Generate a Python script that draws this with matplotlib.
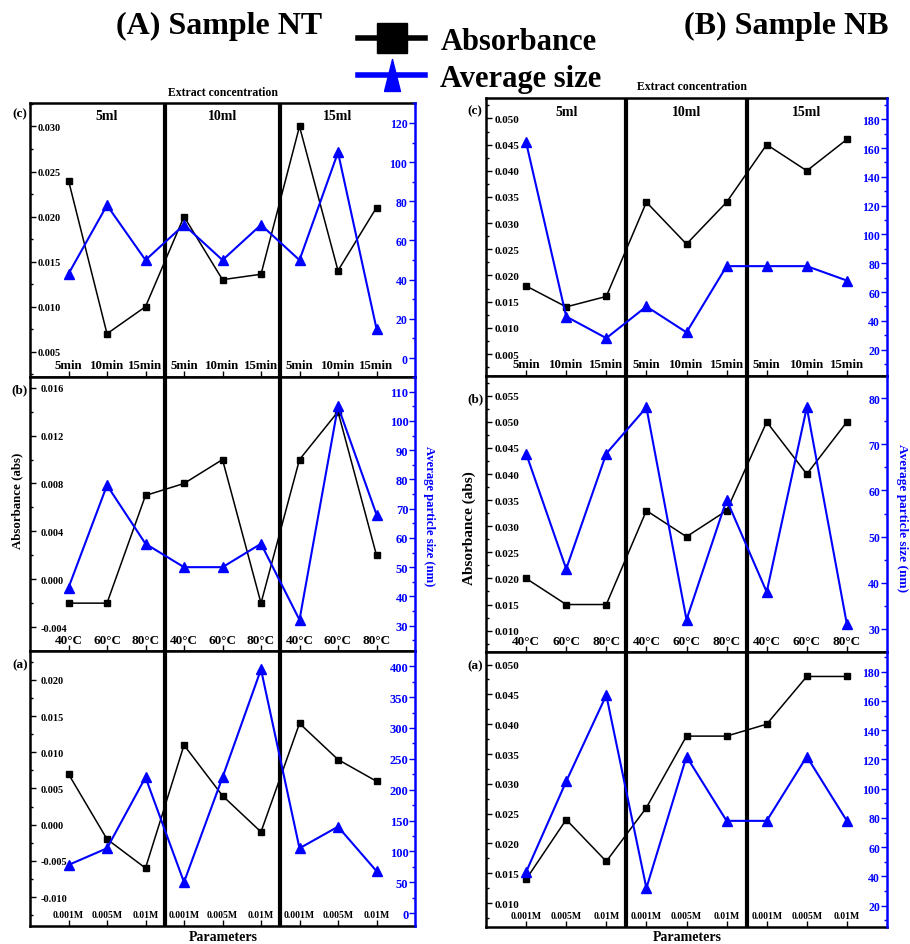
import matplotlib.pyplot as plt
import numpy as np
from matplotlib.lines import Line2D
from matplotlib.ticker import MultipleLocator, FuncFormatter
from matplotlib.transforms import blended_transform_factory

plt.rcParams['font.family'] = ['Liberation Serif', 'DejaVu Serif']
plt.rcParams['font.weight'] = 'bold'

times = ['5min', '10min', '15min']
temps = ['40°C', '60°C', '80°C']
concs = ['0.001M', '0.005M', '0.01M']
volumes = ['5ml', '10ml', '15ml']

# Sample NT: 5ml, 10ml, 15ml blocks of three levels each
nt_abs_c = [0.024, 0.007, 0.010, 0.020, 0.013, 0.0136, 0.030, 0.014, 0.021]
nt_size_c = [43, 78, 50, 68, 50, 68, 50, 105, 15]
nt_abs_b = [-0.002, -0.002, 0.007, 0.008, 0.010, -0.002, 0.010, 0.014, 0.002]
nt_size_b = [43, 78, 58, 50, 50, 58, 32, 105, 68]
nt_abs_a = [0.007, -0.002, -0.006, 0.011, 0.004, -0.001, 0.014, 0.009, 0.006]
nt_size_a = [78, 105, 220, 50, 220, 395, 105, 140, 68]

# Sample NB
nb_abs_c = [0.018, 0.014, 0.016, 0.034, 0.026, 0.034, 0.045, 0.040, 0.046]
nb_size_c = [164, 43, 28, 50, 32, 78, 78, 78, 68]
nb_abs_b = [0.020, 0.015, 0.015, 0.033, 0.028, 0.033, 0.050, 0.040, 0.050]
nb_size_b = [68, 43, 68, 78, 32, 58, 38, 78, 31]
nb_abs_a = [0.014, 0.024, 0.017, 0.026, 0.038, 0.038, 0.040, 0.048, 0.048]
nb_size_a = [43, 105, 164, 32, 122, 78, 78, 122, 78]

W, H = 910, 945
BLUE = '#0000ff'
fig = plt.figure(figsize=(W / 100, H / 100), dpi=100)


def box(x0, y0, x1, y1):
    return [x0 / W, 1 - y1 / H, (x1 - x0) / W, (y1 - y0) / H]


def ftxt(x, y, s, **kw):
    fig.text(x / W, 1 - y / H, s, ha='center', va='center', **kw)


absfmt = FuncFormatter(lambda v, p: f'{round(v, 4) + 0.0:.3f}')
intfmt = FuncFormatter(lambda v, p: f'{int(round(v))}')


def panel(rect, cats, absv, size, lim1, step1, lim2, step2,
          fs1, fs2, pad1, pad2, xfs, xpad, head_y=None):
    ax = fig.add_axes(rect)
    tw = ax.twinx()
    x = np.arange(1, 10)
    ax.plot(x, absv, color='k', marker='s', ms=4.5, lw=1.1)
    tw.plot(x, size, color=BLUE, marker='^', ms=6.5, lw=1.5, clip_on=False)
    ax.set_xlim(0, 10)
    for d in (3.5, 6.5):
        ax.axvline(d, color='k', lw=3)
    ax.set_ylim(*lim1)
    tw.set_ylim(*lim2)
    ax.yaxis.set_major_locator(MultipleLocator(step1))
    ax.yaxis.set_minor_locator(MultipleLocator(step1 / 2))
    ax.yaxis.set_major_formatter(absfmt)
    tw.yaxis.set_major_locator(MultipleLocator(step2))
    tw.yaxis.set_minor_locator(MultipleLocator(step2 / 2))
    tw.yaxis.set_major_formatter(intfmt)
    ax.set_xticks(x)
    ax.set_xticklabels(cats * 3)

    ax.tick_params(axis='y', which='both', direction='in', width=1,
                   labelsize=fs1, pad=-pad1)
    ax.tick_params(axis='y', which='major', length=4)
    ax.tick_params(axis='y', which='minor', length=2.5)
    tw.tick_params(axis='y', which='both', direction='in', width=1,
                   colors=BLUE, labelsize=fs2, pad=-pad2)
    tw.tick_params(axis='y', which='major', length=4)
    tw.tick_params(axis='y', which='minor', length=2.5)
    ax.tick_params(axis='x', direction='in', length=4, width=1,
                   labelsize=xfs, pad=-xpad)

    for s in ['left', 'top', 'bottom']:
        ax.spines[s].set_linewidth(1.8)
        tw.spines[s].set_visible(False)
    ax.spines['right'].set_visible(False)
    tw.spines['right'].set_color(BLUE)
    tw.spines['right'].set_linewidth(1.8)

    plt.setp(ax.get_yticklabels(), ha='left')
    plt.setp(tw.get_yticklabels(), ha='right')
    plt.setp(ax.get_xticklabels(), va='bottom')

    if head_y is not None:
        tr = blended_transform_factory(ax.transData, ax.transAxes)
        for i, v in enumerate(volumes):
            ax.text(2 + 3 * i, head_y, v, transform=tr, ha='center',
                    va='center', fontsize=10)
    return ax, tw


# Sample NT (left)
panel(box(30, 104, 415, 378), times, nt_abs_c, nt_size_c,
      (0.0022, 0.0326), 0.005, (-9.7, 130.2), 20,
      7.5, 8.5, 5.5, 5.5, 9.3, 4.0, head_y=0.956)
panel(box(30, 378, 415, 652), temps, nt_abs_b, nt_size_b,
      (-0.006, 0.0169), 0.004, (21.35, 115), 10,
      7.5, 9, 8.0, 4.8, 9.5, 3.5)
panel(box(30, 652, 415, 927), concs, nt_abs_a, nt_size_a,
      (-0.014, 0.024), 0.005, (-21, 424.8), 50,
      7.5, 9, 7.5, 4.8, 7, 4.8)

# Sample NB (right)
panel(box(486, 99, 887, 377), times, nb_abs_c, nb_size_c,
      (0.0008, 0.0539), 0.005, (1.7, 194.8), 20,
      8, 8.5, 6.0, 5.0, 9.3, 4.0, head_y=0.953)
panel(box(486, 377, 887, 653), temps, nb_abs_b, nb_size_b,
      (0.0059, 0.0588), 0.005, (25, 84.8), 10,
      8, 8.5, 6.0, 5.0, 9.5, 3.8)
panel(box(486, 653, 887, 928), concs, nb_abs_a, nb_size_a,
      (0.006, 0.0521), 0.005, (5.4, 193.5), 20,
      8, 8.5, 6.0, 5.0, 7, 4.8)

# titles and labels
ftxt(219, 26, '(A) Sample NT', fontsize=23)
ftxt(786, 26, '(B) Sample NB', fontsize=23)
ftxt(223, 93, 'Extract concentration', fontsize=8.5)
ftxt(692, 87, 'Extract concentration', fontsize=8.5)
ftxt(223, 938, 'Parameters', fontsize=10)
ftxt(687, 938, 'Parameters', fontsize=10)
ftxt(17, 501, 'Absorbance (abs)', fontsize=9.3, rotation=90)
ftxt(469, 528, 'Absorbance (abs)', fontsize=11, rotation=90)
ftxt(429, 516, 'Average particle size (nm)', fontsize=9.1, rotation=270,
     color=BLUE)
ftxt(902, 518, 'Average particle size (nm)', fontsize=9.5, rotation=270,
     color=BLUE)
for lab, y in [('(c)', 114), ('(b)', 390), ('(a)', 665)]:
    ftxt(20, y, lab, fontsize=9.5)
for lab, y in [('(c)', 111), ('(b)', 399), ('(a)', 666)]:
    ftxt(475, y, lab, fontsize=9.5)

tri = [(-0.25, -0.5), (0.25, -0.5), (0, 0.5), (-0.25, -0.5)]
handles = [Line2D([], [], color='k', lw=4, marker='s', ms=21),
           Line2D([], [], color=BLUE, lw=4, marker=tri, ms=23)]
fig.legend(handles, ['Absorbance', 'Average size'], loc='upper left',
           bbox_to_anchor=(358 / W, 1 - 28 / H), frameon=False,
           fontsize=22, handlelength=2.2, handletextpad=0.5,
           labelspacing=0.25, borderpad=0, borderaxespad=0)

fig.savefig('out.png', dpi=100)
